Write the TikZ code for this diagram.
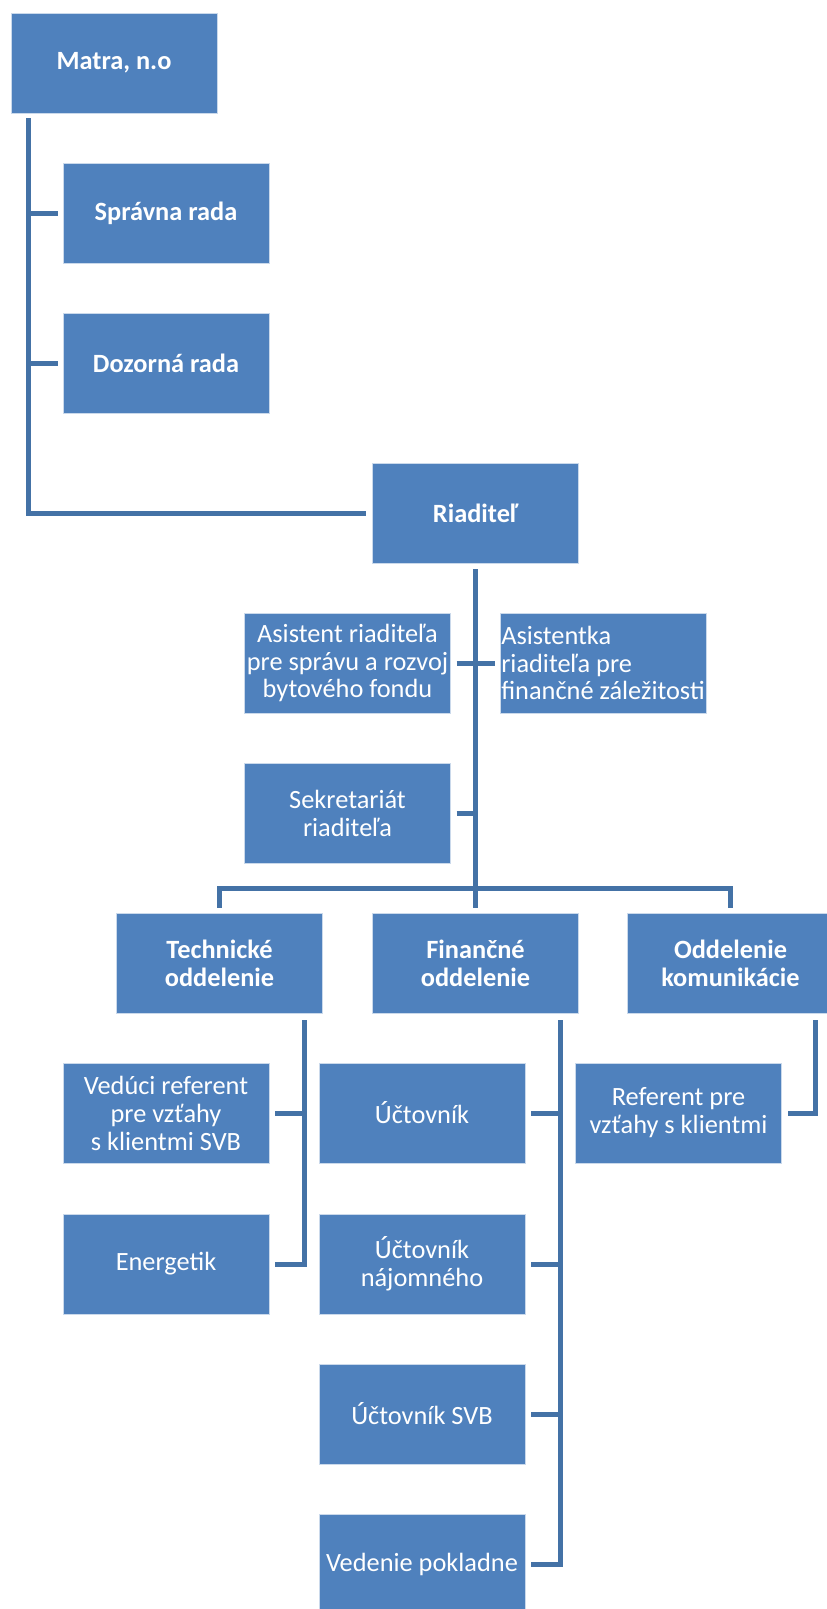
\documentclass[tikz,border=0pt]{standalone}
\usepackage{fontspec}
\setmainfont{Carlito}
\usetikzlibrary{calc}
\definecolor{unitblue}{RGB}{79,129,189}
\definecolor{linkblue}{RGB}{68,114,166}

\begin{document}
\begin{tikzpicture}[x=0.02cm, y=-0.02cm,
  unit/.style={fill=unitblue, draw=white!70!unitblue, line width=0.3pt, text=white,
    minimum width=4.12cm, minimum height=2cm, inner sep=0pt,
    align=center, font=\fontsize{15}{15.9}\selectfont},
  head/.style={unit, font=\fontsize{15}{15.9}\selectfont\bfseries},
  link/.style={linkblue, line width=0.1cm}]

\useasboundingbox (0,0) rectangle (826,1609);

% Top level: organisation and its boards
\node[head] (matra) at (114,63) {Matra, n.o};
\node[head] (spravna) at (166,213) {Správna rada};
\node[head] (dozorna) at (166,363) {Dozorná rada};
\node[head] (riaditel) at (475.5,513) {Riaditeľ};

% Staff directly under the director
\node[unit] (asist1) at (347.5,663) {Asistent riaditeľa\\pre správu a rozvoj\\bytového fondu};
\node[unit, align=left] (asist2) at (603,663) {Asistentka\\riaditeľa pre\\finančné záležitosti};
\node[unit] (sekret) at (347.5,813) {Sekretariát\\riaditeľa};

% Departments
\node[head] (tech) at (219.5,963) {Technické\\oddelenie};
\node[head] (fin) at (475.5,963) {Finančné\\oddelenie};
\node[head] (komun) at (730.5,963) {Oddelenie\\komunikácie};

% Technical department staff
\node[unit] (veduci) at (166,1113) {Vedúci referent\\pre vzťahy\\s klientmi SVB};
\node[unit] (energ) at (166,1264) {Energetik};

% Finance department staff
\node[unit] (uct1) at (422,1113) {Účtovník};
\node[unit] (uct2) at (422,1264) {Účtovník\\nájomného};
\node[unit] (uct3) at (422,1414) {Účtovník SVB};
\node[unit] (pokl) at (422,1564) {Vedenie pokladne};

% Communication department staff
\node[unit] (referent) at (678.5,1113) {Referent pre\\vzťahy s klientmi};

% Trunk from the organisation down to the director
\coordinate (trunk) at ($(matra.south west)+(18,5)$);
\draw[link] (trunk) |- ($(riaditel.west)+(-6,0)$);
\draw[link] ($(spravna.west)+(-5,0)$) -- (spravna.west -| trunk);
\draw[link] ($(dozorna.west)+(-5,0)$) -- (dozorna.west -| trunk);

% Director down to the department bus
\coordinate (rtop) at ($(riaditel.south)+(0,6)$);
\coordinate (bus) at ($(fin.north)+(0,-24)$);
\draw[link] (rtop) -- ($(fin.north)+(0,-5)$);
\draw[link] ($(tech.north)+(0,-5)$) -- (tech.north |- bus) -- (komun.north |- bus) -- ($(komun.north)+(0,-5)$);
\draw[link] ($(asist1.east)+(6,0)$) -- ($(asist2.west)+(-5,0)$);
\draw[link] ($(sekret.east)+(6,0)$) -- (sekret.east -| rtop);

% Departments to their staff
\foreach \dep/\sub in {tech/veduci, tech/energ, fin/uct1, fin/uct2, fin/uct3, fin/pokl, komun/referent}
  \draw[link] ($(\dep.south east)+(-18,7)$) |- ($(\sub.east)+(6,0)$);

\end{tikzpicture}
\end{document}
